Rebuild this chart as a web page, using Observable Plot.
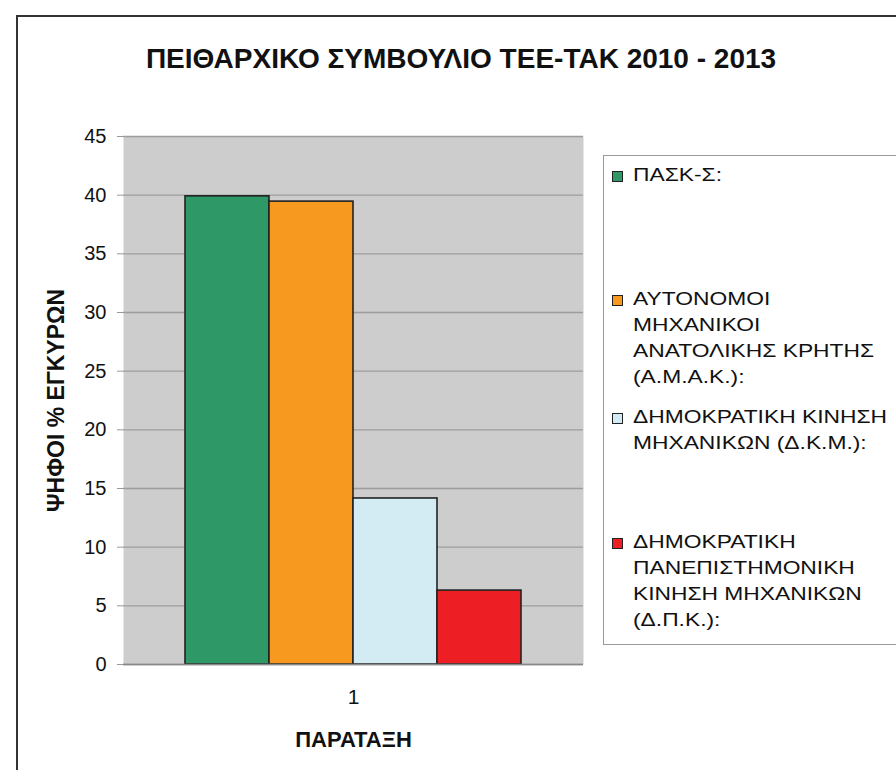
<!DOCTYPE html>
<html>
<head>
<meta charset="utf-8">
<script src="https://cdn.jsdelivr.net/npm/d3@7"></script>
<script src="https://cdn.jsdelivr.net/npm/@observablehq/plot@0.6"></script>
<style>
  html, body { margin: 0; padding: 0; background: #fff; overflow: hidden; }
  body { width: 896px; height: 770px; position: relative; font-family: "Liberation Sans", Arial, sans-serif; }
  #frame { position: absolute; left: 16px; top: 15px; width: 920px; height: 820px; border: 2px solid #333; box-sizing: border-box; }
  #title { position: absolute; left: 0; width: 922px; top: 43px; text-align: center; font-weight: bold; font-size: 28px; color: #111; }
  #chart { position: absolute; left: 0; top: 100px; }
  #legend { position: absolute; left: 603px; top: 155px; width: 300px; height: 490px; border: 1.5px solid #999; box-sizing: border-box; background: #fff; }
  .item { position: absolute; left: 29px; color: #111; white-space: nowrap; }
  .txt { font-size: 19px; line-height: 26px; transform: scaleX(1.2); transform-origin: 0 0; }
  .sw { position: absolute; left: -21px; top: 9px; width: 9px; height: 9px; border: 1px solid #222; }
  #chart svg text { font-family: "Liberation Sans", Arial, sans-serif; }
  #chart svg [aria-label="y-axis tick label"] { font-size: 20px !important; }
  #chart svg [aria-label="fx-axis tick label"] { font-size: 21px !important; }
  #chart svg [aria-label="y-axis label"] { font-weight: bold; font-size: 23px !important; }
  #chart svg [aria-label="fx-axis label"] { font-weight: bold; font-size: 22px !important; }
</style>
</head>
<body>
<div id="frame"></div>
<div id="title"></div>
<div id="chart"></div>
<div id="legend"></div>
<script>
const title = "ΠΕΙΘΑΡΧΙΚΟ ΣΥΜΒΟΥΛΙΟ ΤΕΕ-ΤΑΚ 2010 - 2013";
const parties = [
  "ΠΑΣΚ-Σ:",
  "ΑΥΤΟΝΟΜΟΙ ΜΗΧΑΝΙΚΟΙ ΑΝΑΤΟΛΙΚΗΣ ΚΡΗΤΗΣ (Α.Μ.Α.Κ.):",
  "ΔΗΜΟΚΡΑΤΙΚΗ ΚΙΝΗΣΗ ΜΗΧΑΝΙΚΩΝ (Δ.Κ.Μ.):",
  "ΔΗΜΟΚΡΑΤΙΚΗ ΠΑΝΕΠΙΣΤΗΜΟΝΙΚΗ ΚΙΝΗΣΗ ΜΗΧΑΝΙΚΩΝ (Δ.Π.Κ.):"
];
const legendLines = [
  ["ΠΑΣΚ-Σ:"],
  ["ΑΥΤΟΝΟΜΟΙ", "ΜΗΧΑΝΙΚΟΙ", "ΑΝΑΤΟΛΙΚΗΣ ΚΡΗΤΗΣ", "(Α.Μ.Α.Κ.):"],
  ["ΔΗΜΟΚΡΑΤΙΚΗ ΚΙΝΗΣΗ", "ΜΗΧΑΝΙΚΩΝ (Δ.Κ.Μ.):"],
  ["ΔΗΜΟΚΡΑΤΙΚΗ", "ΠΑΝΕΠΙΣΤΗΜΟΝΙΚΗ", "ΚΙΝΗΣΗ ΜΗΧΑΝΙΚΩΝ", "(Δ.Π.Κ.):"]
];
const values = [39.9, 39.45, 14.15, 6.3];
const colors = ["#2e9966", "#f7981f", "#d3ebf2", "#ee1f24"];
const category = "1";
const yTicks = [0, 5, 10, 15, 20, 25, 30, 35, 40, 45];
const yLabel = "ΨΗΦΟΙ % ΕΓΚΥΡΩΝ";
const xLabel = "ΠΑΡΑΤΑΞΗ";

document.getElementById("title").textContent = title;

const data = parties.map((p, i) => ({party: p, value: values[i], cat: category}));

const chart = Plot.plot({
  width: 600,
  height: 670,
  marginLeft: 123,
  marginRight: 17,
  marginTop: 36,
  marginBottom: 106,
  style: {fontFamily: "'Liberation Sans', Arial, sans-serif", fontSize: "20px", color: "#111", background: "transparent"},
  fx: {domain: [category], padding: 0},
  x: {domain: parties, paddingInner: 0, paddingOuter: 0.738, axis: null},
  y: {domain: [0, 45]},
  color: {domain: parties, range: colors},
  marks: [
    Plot.frame({fill: "#cdcdcd", stroke: null}),
    Plot.gridY(yTicks, {stroke: "#9d9d9d", strokeOpacity: 1, strokeWidth: 1.3}),
    Plot.ruleX([0], {frameAnchor: "left", stroke: "#888", strokeWidth: 1.5}),
    Plot.ruleX([0], {frameAnchor: "right", stroke: "#bbb", strokeWidth: 1}),
    Plot.axisY({ticks: yTicks, tickSize: 6, tickPadding: 11, stroke: "#999", fontSize: 20, label: yLabel, labelAnchor: "center", labelArrow: "none", labelOffset: 76}),
    Plot.axisFx({anchor: "bottom", tickSize: 0, tickPadding: 25, fontSize: 21, label: xLabel, labelAnchor: "center", labelArrow: "none", labelOffset: 82}),
    Plot.barY(data, {fx: "cat", x: "party", y: "value", fill: "party", stroke: "#222", strokeWidth: 1.6}),
    Plot.ruleY([0], {stroke: "#888", strokeWidth: 1.5})
  ]
});
document.getElementById("chart").appendChild(chart);

const tops = [5.5, 129.5, 247.5, 372.5];
const legend = document.getElementById("legend");
legendLines.forEach((lines, i) => {
  const div = document.createElement("div");
  div.className = "item";
  div.style.top = tops[i] + "px";
  const sw = document.createElement("span");
  sw.className = "sw";
  sw.style.background = colors[i];
  div.appendChild(sw);
  const txt = document.createElement("div");
  txt.className = "txt";
  lines.forEach((l, j) => {
    if (j) txt.appendChild(document.createElement("br"));
    txt.appendChild(document.createTextNode(l));
  });
  div.appendChild(txt);
  legend.appendChild(div);
});
</script>
</body>
</html>
